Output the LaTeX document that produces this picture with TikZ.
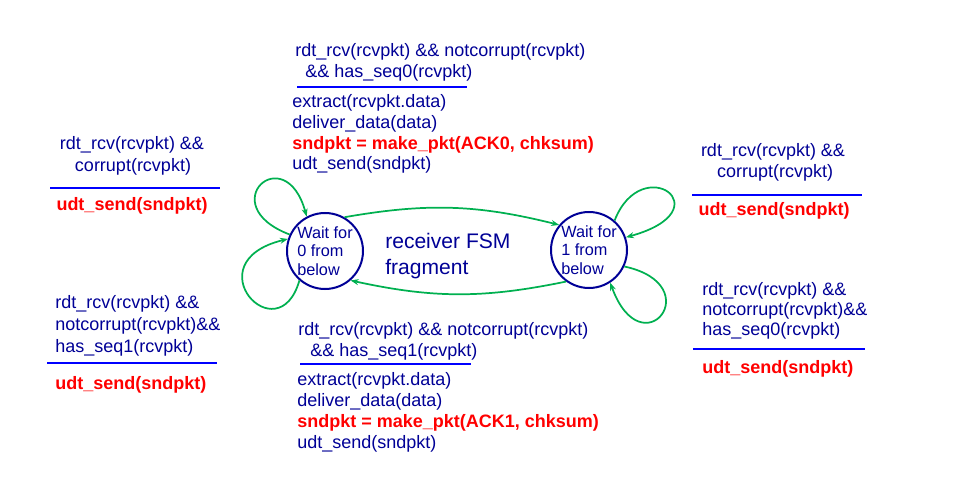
\documentclass[tikz,border=0pt]{standalone}
\usepackage{fontspec}
\setmainfont{Liberation Sans}
\usetikzlibrary{arrows.meta}
\definecolor{navy}{RGB}{0,0,150}
\definecolor{fsmgreen}{RGB}{0,176,80}
\definecolor{rulblue}{RGB}{0,0,255}
\definecolor{actred}{RGB}{255,0,0}
\begin{document}
\begin{tikzpicture}[x=0.75pt,y=-0.75pt,
  txt/.style={inner sep=0pt,anchor=base west,text=navy,font=\fontsize{13.5}{15.5}\selectfont},
  ctxt/.style={txt,anchor=base},
  act/.style={txt,text=actred,font=\fontsize{13.5}{15.5}\selectfont\bfseries},
  cact/.style={act,anchor=base},
  rul/.style={draw=rulblue,line width=2.2pt},
  state/.style={circle,draw=navy,line width=1.5pt,minimum size=57pt,inner sep=0pt,
    align=left,text=navy,font=\fontsize{12.2}{13.9}\selectfont},
  tr/.style={draw=fsmgreen,line width=1.3pt,-{Stealth[length=6pt,width=4.5pt]}}]
\useasboundingbox (0,0) rectangle (955,495);

% states
\node[state] (s0) at (325,251) {Wait for\\0 from\\below};
\node[state] (s1) at (589,250) {Wait for\\1 from\\below};
\node[txt,font=\fontsize{15.8}{18.8}\selectfont,anchor=base west] (title1) at (385,248) {receiver FSM};
\node[txt,font=\fontsize{15.8}{18.8}\selectfont,anchor=base west] (title2) at (385,274) {fragment};

% transitions
\draw[tr] (s0.60) to[bend left=12] (s1.140);
\draw[tr] (s1.234) to[bend left=12] (s0.311);
\draw[tr] (s0.155) .. controls (212,205) and (285,138) .. (s0.118);
\draw[tr] (s0.229) .. controls (278,355) and (192,262) .. (s0.162);
\draw[tr] (s1.49) .. controls (642,150) and (725,210) .. (s1.19);
\draw[tr] (s1.335) .. controls (710,285) and (642,370) .. (s1.303);

% top block
\node[txt] (tg1) at (295,57) {rdt\_rcv(rcvpkt) \&\& notcorrupt(rcvpkt)};
\node[txt] (tg2) at (305,78) {\&\& has\_seq0(rcvpkt)};
\draw[rul] (297,87) -- (467,87);
\node[txt] (ta1) at (292,108) {extract(rcvpkt.data)};
\node[txt] (ta2) at (292,129) {deliver\_data(data)};
\node[act] (ta3) at (292,150) {sndpkt = make\_pkt(ACK0, chksum)};
\node[txt] (ta4) at (292,170) {udt\_send(sndpkt)};

% bottom block
\node[txt] (bg1) at (298,335) {rdt\_rcv(rcvpkt) \&\& notcorrupt(rcvpkt)};
\node[txt] (bg2) at (310,356) {\&\& has\_seq1(rcvpkt)};
\draw[rul] (300,364) -- (471,364);
\node[txt] (ba1) at (297,385) {extract(rcvpkt.data)};
\node[txt] (ba2) at (297,406) {deliver\_data(data)};
\node[act] (ba3) at (297,427) {sndpkt = make\_pkt(ACK1, chksum)};
\node[txt] (ba4) at (297,448) {udt\_send(sndpkt)};

% left top
\node[ctxt] (ltg1) at (132,150) {rdt\_rcv(rcvpkt) \&\&};
\node[ctxt] (ltg2) at (133,172) {corrupt(rcvpkt)};
\draw[rul] (50,188) -- (220,188);
\node[cact] (lta) at (132,210) {udt\_send(sndpkt)};

% left bottom
\node[txt] (lbg1) at (55,308) {rdt\_rcv(rcvpkt) \&\&};
\node[txt] (lbg2) at (55,330) {notcorrupt(rcvpkt)\&\&};
\node[txt] (lbg3) at (55,352) {has\_seq1(rcvpkt)};
\draw[rul] (47,363) -- (217,363);
\node[act] (lba) at (55,389) {udt\_send(sndpkt)};

% right top
\node[ctxt] (rtg1) at (773,157) {rdt\_rcv(rcvpkt) \&\&};
\node[ctxt] (rtg2) at (775,178) {corrupt(rcvpkt)};
\draw[rul] (692,195) -- (862,195);
\node[cact] (rta) at (774,215) {udt\_send(sndpkt)};

% right bottom
\node[txt] (rbg1) at (702,295) {rdt\_rcv(rcvpkt) \&\&};
\node[txt] (rbg2) at (702,315) {notcorrupt(rcvpkt)\&\&};
\node[txt] (rbg3) at (702,335) {has\_seq0(rcvpkt)};
\draw[rul] (693,349) -- (865,349);
\node[act] (rba) at (702,373) {udt\_send(sndpkt)};
\end{tikzpicture}
\end{document}
